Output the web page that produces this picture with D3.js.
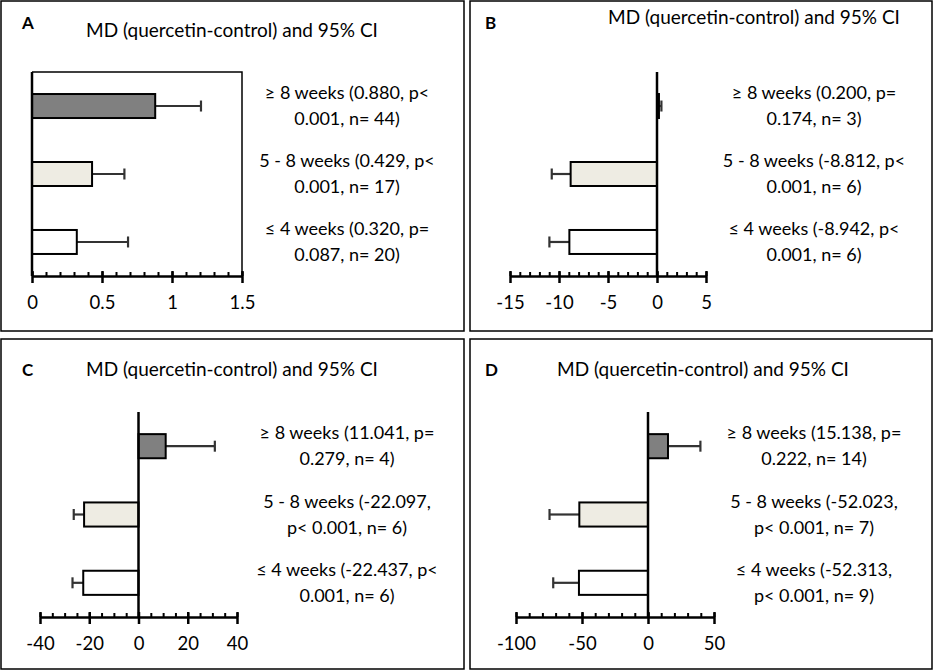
<!DOCTYPE html>
<html>
<head>
<meta charset="utf-8">
<script src="https://cdn.jsdelivr.net/npm/d3@7"></script>
<style>
  body { margin: 0; background: #fff; }
  svg text { font-family: Lato, "Open Sans", sans-serif; fill: #000; }
</style>
</head>
<body>
<div id="chart"></div>
<script>
// data
const groups = ["≥ 8 weeks", "5 - 8 weeks", "≤ 4 weeks"];

const mdA = [0.880, 0.429, 0.320];
const ciA = [1.207, 0.660, 0.686];
const labelsA = [["≥ 8 weeks (0.880, p<", "0.001, n= 44)"],
                 ["5 - 8 weeks (0.429, p<", "0.001, n= 17)"],
                 ["≤ 4 weeks (0.320, p=", "0.087, n= 20)"]];

const mdB = [0.200, -8.812, -8.942];
const ciB = [0.45, -10.74, -10.98];
const labelsB = [["≥ 8 weeks (0.200, p=", "0.174, n= 3)"],
                 ["5 - 8 weeks (-8.812, p<", "0.001, n= 6)"],
                 ["≤ 4 weeks (-8.942, p<", "0.001, n= 6)"]];

const mdC = [11.041, -22.097, -22.437];
const ciC = [31.0, -26.3, -26.8];
const labelsC = [["≥ 8 weeks (11.041, p=", "0.279, n= 4)"],
                 ["5 - 8 weeks (-22.097,", "p< 0.001, n= 6)"],
                 ["≤ 4 weeks (-22.437, p<", "0.001, n= 6)"]];

const mdD = [15.138, -52.023, -52.313];
const ciD = [39.7, -74.6, -71.8];
const labelsD = [["≥ 8 weeks (15.138, p=", "0.222, n= 14)"],
                 ["5 - 8 weeks (-52.023,", "p< 0.001, n= 7)"],
                 ["≤ 4 weeks (-52.313,", "p< 0.001, n= 9)"]];

// axis settings
const domainA = [0, 1.5],   majorA = [0, 0.5, 1, 1.5],      minorStepA = 0.1;
const domainB = [-15, 5],   majorB = [-15, -10, -5, 0, 5],  minorStepB = 1;
const domainC = [-40, 40],  majorC = [-40, -20, 0, 20, 40], minorStepC = 5;
const domainD = [-100, 50], majorD = [-100, -50, 0, 50],    minorStepD = 10;

const title = "MD (quercetin-control) and 95% CI";
const fills = ["#808080", "#eeece3", "#ffffff"];

const W = 934, H = 670;
const svg = d3.select("#chart").append("svg")
    .attr("width", W).attr("height", H);

// panel frames
const frames = [[1, 1, 463, 330], [470, 1, 462, 330], [1, 339, 463, 330], [470, 339, 462, 330]];
svg.selectAll("rect.frame")
  .data(frames)
  .join("rect")
    .attr("class", "frame")
    .attr("x", d => d[0]).attr("y", d => d[1])
    .attr("width", d => d[2]).attr("height", d => d[3])
    .attr("fill", "none").attr("stroke", "#000").attr("stroke-width", 1.5);

const panels = [
  { id: "A", ox: 0,   oy: 0,   xr: [32, 242], yr: [72, 276], tx: 232, ty: 37, lx: 22, ly: 29, box: true,
    md: mdA, ci: ciA, labels: labelsA, domain: domainA, major: majorA, step: minorStepA },
  { id: "B", ox: 467, oy: 0,   xr: [43, 239], yr: [72, 276], tx: 287, ty: 24, lx: 18, ly: 29, box: false,
    md: mdB, ci: ciB, labels: labelsB, domain: domainB, major: majorB, step: minorStepB },
  { id: "C", ox: 0,   oy: 335, xr: [40, 237], yr: [77, 282], tx: 232, ty: 41, lx: 22, ly: 41, box: false,
    md: mdC, ci: ciC, labels: labelsC, domain: domainC, major: majorC, step: minorStepC },
  { id: "D", ox: 467, oy: 335, xr: [49, 247], yr: [77, 282], tx: 236, ty: 41, lx: 18, ly: 41, box: false,
    md: mdD, ci: ciD, labels: labelsD, domain: domainD, major: majorD, step: minorStepD }
];

panels.forEach(p => drawPanel(p));

function drawPanel(p) {
  const g = svg.append("g").attr("transform", `translate(${p.ox},${p.oy})`);

  const x = d3.scaleLinear().domain(p.domain).range(p.xr);
  const y = d3.scaleBand()
    .domain(groups)
    .range(p.yr)
    .paddingInner(0.647)
    .paddingOuter(0.324);

  // panel letter + title
  g.append("text")
    .attr("x", p.lx).attr("y", p.ly)
    .style("font-size", "17px").style("font-weight", "bold")
    .text(p.id);
  g.append("text")
    .attr("x", p.tx).attr("y", p.ty)
    .attr("text-anchor", "middle")
    .style("font-size", "19px")
    .text(title);

  // bars
  const rows = groups.map((gr, i) => ({ g: gr, md: p.md[i], ci: p.ci[i], i: i }));
  const bw = y.bandwidth();

  // error bars (drawn under bar outline)
  const err = g.append("g").attr("stroke", "#333").attr("stroke-width", 2.2);
  err.selectAll("line.whisk")
    .data(rows)
    .join("line")
      .attr("x1", d => x(d.md)).attr("x2", d => x(d.ci))
      .attr("y1", d => y(d.g) + bw / 2).attr("y2", d => y(d.g) + bw / 2);
  err.selectAll("line.cap")
    .data(rows)
    .join("line")
      .attr("x1", d => x(d.ci)).attr("x2", d => x(d.ci))
      .attr("y1", d => y(d.g) + bw / 2 - 5.5).attr("y2", d => y(d.g) + bw / 2 + 5.5);

  g.selectAll("rect.bar")
    .data(rows)
    .join("rect")
      .attr("class", "bar")
      .attr("x", d => Math.min(x(0), x(d.md)))
      .attr("y", d => y(d.g))
      .attr("width", d => Math.abs(x(d.md) - x(0)))
      .attr("height", bw)
      .attr("fill", d => fills[d.i])
      .attr("stroke", "#000")
      .attr("stroke-width", 2);

  // right-hand labels
  const lab = g.append("g").style("font-size", "18px").attr("text-anchor", "middle");
  rows.forEach(d => {
    const cy = y(d.g) + bw / 2;
    lab.append("text").attr("x", 347).attr("y", cy - 7).text(p.labels[d.i][0]);
    lab.append("text").attr("x", 347).attr("y", cy + 19).text(p.labels[d.i][1]);
  });

  // frame for panel A
  if (p.box) {
    g.append("path")
      .attr("d", `M${p.xr[0]},${p.yr[0]}H${p.xr[1]}V${p.yr[1]}`)
      .attr("fill", "none").attr("stroke", "#000").attr("stroke-width", 1.5);
  }

  // zero line / y axis
  g.append("line")
    .attr("x1", x(0)).attr("x2", x(0))
    .attr("y1", p.yr[0]).attr("y2", p.yr[1])
    .attr("stroke", "#000").attr("stroke-width", 2.5);

  // x axis: minor ticks
  const minor = d3.range(p.domain[0], p.domain[1] + p.step / 2, p.step);
  const minorAxis = g.append("g")
    .attr("transform", `translate(0,${p.yr[1]})`)
    .call(d3.axisBottom(x).tickValues(minor).tickSizeInner(-4).tickSizeOuter(0).tickFormat(""));
  minorAxis.select(".domain").attr("stroke-width", 2.5);
  minorAxis.selectAll(".tick line").attr("stroke-width", 2);

  // x axis: major ticks + labels
  const majorAxis = g.append("g")
    .attr("transform", `translate(0,${p.yr[1]})`)
    .call(d3.axisBottom(x).tickValues(p.major).tickSizeInner(7).tickSizeOuter(0).tickFormat(d => String(d)));
  majorAxis.select(".domain").remove();
  majorAxis.selectAll(".tick line").attr("y1", -5).attr("stroke-width", 2.5);
  majorAxis.selectAll(".tick text")
    .attr("y", 33).attr("dy", null)
    .style("font-size", "18.5px").style("font-family", "Lato, sans-serif");
}
</script>
</body>
</html>
